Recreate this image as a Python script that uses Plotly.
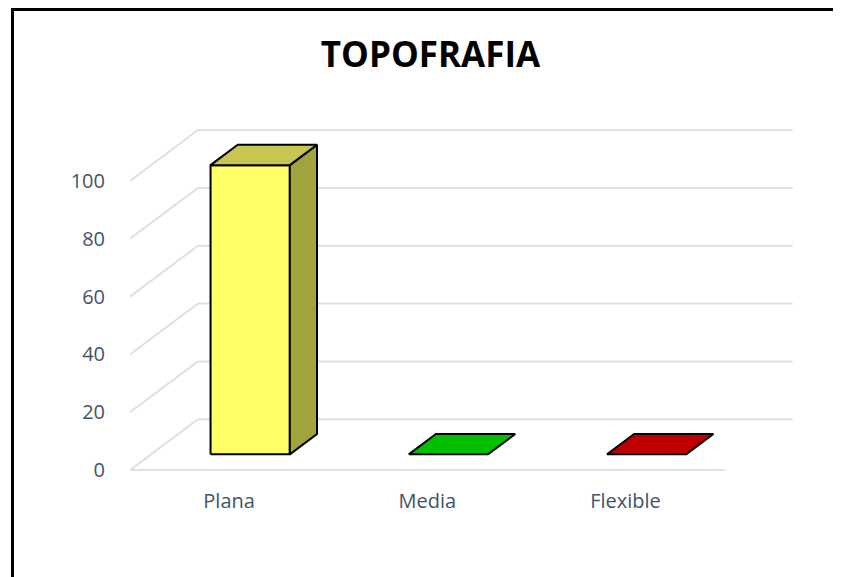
import plotly.graph_objects as go

# ---- data ----
categories = ["Plana", "Media", "Flexible"]
values = [100, 0, 0]
y_ticks = [0, 20, 40, 60, 80, 100]
title_text = "TOPOFRAFIA"

# ---- styles ----
front_colors = ["#FFFF66", "#00C000", "#C00000"]
top_colors = ["#C6C650", "#00C000", "#C00000"]
side_colors = ["#A3A33E", "#009000", "#900000"]
grid_color = "#DDE0E5"
label_color = "#44546A"
FONT = "Open Sans"

# page body has an 8px default margin; figure is sized/offset to compensate
OFF = 8
W, H = 841 - OFF, 577 - OFF
ML, MR, MT, MB = 130 - OFF, 47, 126 - OFF, 104
X_RANGE = [-0.5, 2.85]
Y_RANGE = [-1, 119]
DX, DY = 0.343, 17.6          # oblique depth offset (data units)
D1, D2 = 0.31, 0.71           # bar depth span
BW = 0.4                      # bar width (category units)


def proj(x, v, d):
    return x + d * DX, v + d * DY


def poly(pts):
    xs, ys = zip(*[proj(*p) for p in pts])
    return list(xs) + [xs[0]], list(ys) + [ys[0]]


fig = go.Figure()

n = len(categories)
for v in y_ticks:
    bx0, by = proj(-0.5, v, 1)
    bx1, _ = proj(n - 0.5, v, 1)
    fig.add_trace(go.Scatter(x=[bx0, bx1], y=[by, by], mode="lines",
                             line=dict(color=grid_color, width=2),
                             hoverinfo="skip", showlegend=False))
    fx, fy = proj(-0.5, v, 0)
    fig.add_trace(go.Scatter(x=[fx, bx0], y=[fy, by], mode="lines",
                             line=dict(color=grid_color, width=2),
                             hoverinfo="skip", showlegend=False))
fig.add_trace(go.Scatter(x=[-0.5, n - 0.5], y=[0, 0], mode="lines",
                         line=dict(color=grid_color, width=2),
                         hoverinfo="skip", showlegend=False))

for i, (cat, h) in enumerate(zip(categories, values)):
    x0, x1 = i - BW / 2, i + BW / 2
    faces = []
    if h > 0:
        faces.append(([(x0, 0, D1), (x1, 0, D1), (x1, h, D1), (x0, h, D1)], front_colors[i]))
        faces.append(([(x1, 0, D1), (x1, 0, D2), (x1, h, D2), (x1, h, D1)], side_colors[i]))
    faces.append(([(x0, h, D1), (x1, h, D1), (x1, h, D2), (x0, h, D2)], top_colors[i]))
    for pts, col in faces:
        xs, ys = poly(pts)
        fig.add_trace(go.Scatter(x=xs, y=ys, mode="lines", fill="toself",
                                 fillcolor=col, line=dict(color="black", width=2),
                                 name=cat, hoverinfo="skip", showlegend=False))


def px_to_paper(px, py):
    # px, py in figure pixels
    pw, ph = W - ML - MR, H - MT - MB
    return (px - ML) / pw, (H - MB - py) / ph


bx0, by0 = px_to_paper(12.5 - OFF, 600)
bx1, by1 = px_to_paper(860, 1.5)
fig.add_shape(type="rect", xref="paper", yref="paper", x0=bx0, y0=by0, x1=bx1, y1=by1,
              line=dict(color="black", width=3), fillcolor="rgba(0,0,0,0)", layer="above")

fig.update_layout(
    width=W, height=H,
    margin=dict(l=ML, r=MR, t=MT, b=MB),
    paper_bgcolor="white", plot_bgcolor="white",
    title=dict(text="<b>" + title_text + "</b>", x=(430.5 - OFF) / W, xref="container",
               y=1 - (55 - OFF) / H, yref="container", xanchor="center", yanchor="middle",
               font=dict(family=FONT, size=35, color="black")),
    xaxis=dict(range=X_RANGE, tickvals=list(range(n)), ticktext=categories,
               showgrid=False, zeroline=False, showline=False,
               ticks="outside", ticklen=10, tickcolor="rgba(0,0,0,0)",
               tickfont=dict(family=FONT, size=20, color=label_color)),
    yaxis=dict(range=Y_RANGE, tickvals=y_ticks,
               showgrid=False, zeroline=False, showline=False,
               ticks="outside", ticklen=20, tickcolor="rgba(0,0,0,0)",
               tickfont=dict(family=FONT, size=20, color=label_color)),
    showlegend=False,
)

fig.write_html("out.html")
